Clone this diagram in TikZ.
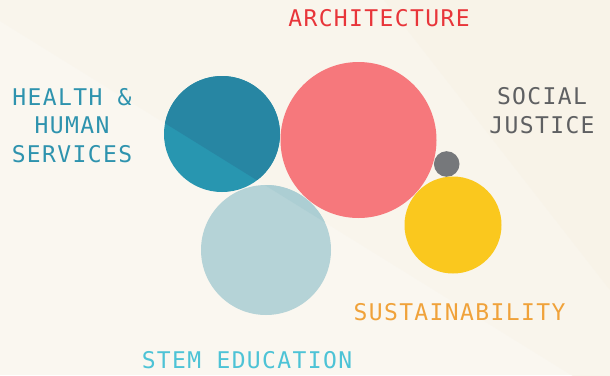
\documentclass[tikz,border=0pt]{standalone}
\usepackage{fontspec}
\newfontfamily\labelfont[LetterSpace=6]{DejaVu Sans Mono}
\definecolor{bgA}{HTML}{FAF7F0}
\definecolor{bgB}{HTML}{F9F5EC}
\definecolor{bgC}{HTML}{F8F3E8}
\definecolor{tealD}{HTML}{2786A3}
\definecolor{tealL}{HTML}{2896B0}
\definecolor{pinkC}{HTML}{F6787C}
\definecolor{grayC}{HTML}{76787B}
\definecolor{yellowC}{HTML}{FAC81E}
\definecolor{blueL}{HTML}{B5D3D7}
\definecolor{blueD}{HTML}{ACCED3}
\definecolor{txtRed}{HTML}{E8353A}
\definecolor{txtTeal}{HTML}{2E93AE}
\definecolor{txtGray}{HTML}{5F6062}
\definecolor{txtOrange}{HTML}{F0A23A}
\definecolor{txtBlue}{HTML}{4DC3D6}
\tikzset{
  lbl/.style={font=\labelfont\fontsize{23}{28.5}\selectfont, align=center, inner sep=0pt},
  bubble/.style={circle, inner sep=0pt, draw=none}
}
\begin{document}
\begin{tikzpicture}[x=1pt,y=-1pt]
\useasboundingbox (0,0) rectangle (610,375);
% background
\fill[bgA] (0,0) rectangle (610,375);
\fill[bgB] (0,0) -- (610,0) -- (610,399) -- (0,21) -- cycle;
\fill[bgC] (384,0) -- (610,0) -- (610,290) -- cycle;
% circles
\node[bubble, fill=tealL, minimum size=116pt] (health) at (222,134) {};
\begin{scope}
  \clip (222,134) circle (58);
  \fill[tealD] (0,21) -- (610,399) -- (610,0) -- (0,0) -- cycle;
\end{scope}
\node[bubble, fill=pinkC, minimum size=156pt] (arch) at (358.5,140) {};
\node[bubble, fill=grayC, minimum size=25.6pt] (social) at (446.7,164) {};
\node[bubble, fill=yellowC, minimum size=97pt] (sust) at (453,225) {};
\node[bubble, fill=blueL, minimum size=130pt] (stem) at (266,250) {};
\begin{scope}
  \clip (266,250) circle (65);
  \fill[blueD] (0,21) -- (610,399) -- (610,0) -- (0,0) -- cycle;
\end{scope}
% labels
\node[lbl, text=txtRed] (tArch) at (379,18.5) {ARCHITECTURE};
\node[lbl, text=txtTeal] (tHealth) at (72,125.5) {HEALTH \&\\HUMAN\\SERVICES};
\node[lbl, text=txtGray] (tSocial) at (542,110.5) {SOCIAL\\JUSTICE};
\node[lbl, text=txtOrange] (tSust) at (459.5,312.5) {SUSTAINABILITY};
\node[lbl, text=txtBlue] (tStem) at (247,360.5) {STEM EDUCATION};
\end{tikzpicture}
\end{document}
